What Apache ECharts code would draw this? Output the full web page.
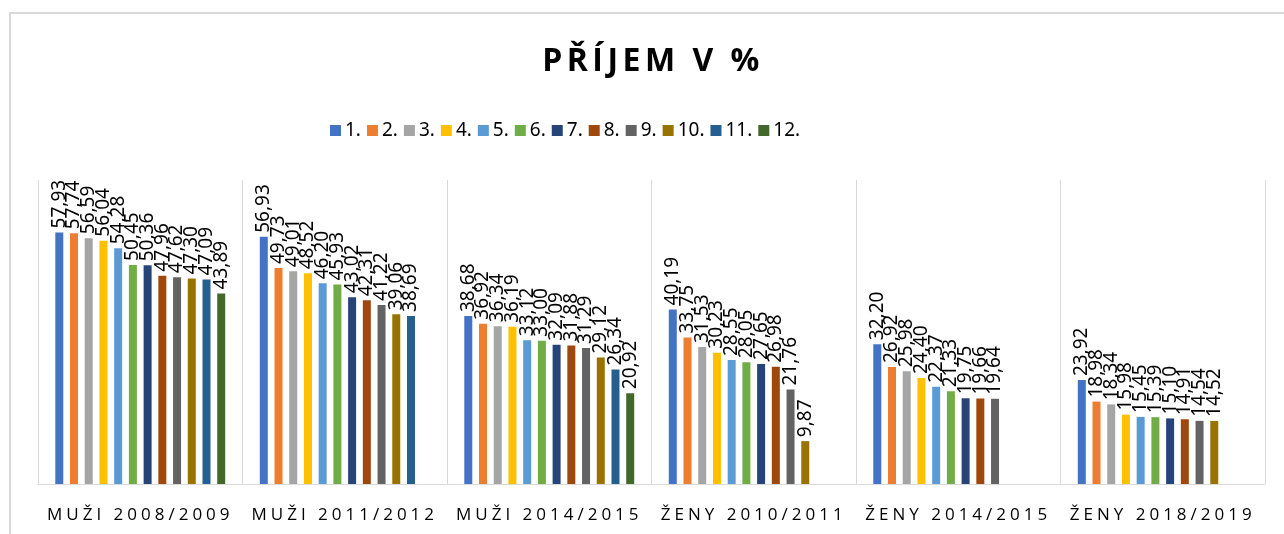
<!DOCTYPE html>
<html>
<head>
<meta charset="utf-8">
<script src="https://cdn.jsdelivr.net/npm/echarts@6/dist/echarts.min.js"></script>
<style>
  html, body { margin: 0; background: #fff; }
  #chart { width: 1284px; height: 534px; }
</style>
</head>
<body>
<div id="chart"></div>
<script>
const groups = ['MUŽI 2008/2009', 'MUŽI 2011/2012', 'MUŽI 2014/2015', 'ŽENY 2010/2011', 'ŽENY 2014/2015', 'ŽENY 2018/2019']
const names = ['1.', '2.', '3.', '4.', '5.', '6.', '7.', '8.', '9.', '10.', '11.', '12.']
const colors = ['#4472C4', '#ED7D31', '#A5A5A5', '#FFC000', '#5B9BD5', '#70AD47', '#264478', '#9E480E', '#636363', '#997300', '#255E91', '#43682B']

// one array per legend item, one value per group (null = no bar)
const r1 = [57.93, 56.93, 38.68, 40.19, 32.20, 23.92]
const r2 = [57.74, 49.73, 36.92, 33.75, 26.92, 18.98]
const r3 = [56.59, 49.01, 36.34, 31.53, 25.98, 18.34]
const r4 = [56.04, 48.52, 36.19, 30.23, 24.40, 15.98]
const r5 = [54.28, 46.20, 33.12, 28.55, 22.37, 15.45]
const r6 = [50.45, 45.93, 33.00, 28.05, 21.33, 15.39]
const r7 = [50.36, 43.02, 32.09, 27.65, 19.75, 15.10]
const r8 = [47.96, 42.31, 31.88, 26.98, 19.66, 14.91]
const r9 = [47.62, 41.22, 31.29, 21.76, 19.64, 14.54]
const r10 = [47.30, 39.06, 29.12, 9.87, null, 14.52]
const r11 = [47.09, 38.69, 26.34, null, null, null]
const r12 = [43.89, null, 20.92, null, null, null]
const rows = [r1, r2, r3, r4, r5, r6, r7, r8, r9, r10, r11, r12]

// title and category labels are letter-spaced in the original (Open Sans is used only there)
const fillText = CanvasRenderingContext2D.prototype.fillText
CanvasRenderingContext2D.prototype.fillText = function (text, x, y, w) {
  this.letterSpacing = this.font.includes('Open Sans') ? (this.font.includes('bold') ? '4.5px' : '4px') : '0px'
  return w === undefined ? fillText.call(this, text, x, y) : fillText.call(this, text, x, y, w)
}

const chart = echarts.init(document.getElementById('chart'))
chart.setOption({
  animation: false,
  color: colors,
  title: {
    text: 'PŘÍJEM V %',
    left: 648,
    top: 41,
    textAlign: 'center',
    textStyle: { fontFamily: 'Open Sans', fontWeight: 'bold', fontSize: 32, color: '#000' },
  },
  legend: {
    data: names,
    top: 116,
    left: 325,
    icon: 'rect',
    itemWidth: 11,
    itemHeight: 11,
    itemGap: 6,
    textStyle: { fontFamily: 'Noto Sans', fontSize: 19, color: '#000', padding: [0, 0, 0, -1] },
  },
  graphic: [{
    type: 'rect',
    shape: { x: 10, y: 13, width: 1400, height: 700 },
    style: { fill: 'none', stroke: '#d9d9d9', lineWidth: 2 },
    silent: true,
  }],
  grid: { left: 38, right: 19, top: 180, bottom: 50 },
  xAxis: {
    type: 'category',
    data: groups,
    axisLine: { lineStyle: { color: '#d9d9d9', width: 1 } },
    axisTick: { show: false },
    splitLine: { show: true, lineStyle: { color: '#d9d9d9', width: 1 } },
    axisLabel: { fontFamily: 'Open Sans', fontSize: 17, color: '#000', margin: 23 },
  },
  yAxis: { type: 'value', min: 0, max: 70, show: false },
  series: rows.map((vals, i) => ({
    name: names[i],
    type: 'bar',
    data: vals,
    barWidth: 8,
    barGap: '84%',
    label: {
      show: true,
      position: 'top',
      rotate: 90,
      align: 'left',
      verticalAlign: 'middle',
      distance: 4,
      fontFamily: 'Noto Sans',
      fontSize: 19,
      color: '#000',
      formatter: p => p.value.toFixed(2).replace('.', ','),
    },
  })),
})
</script>
</body>
</html>
